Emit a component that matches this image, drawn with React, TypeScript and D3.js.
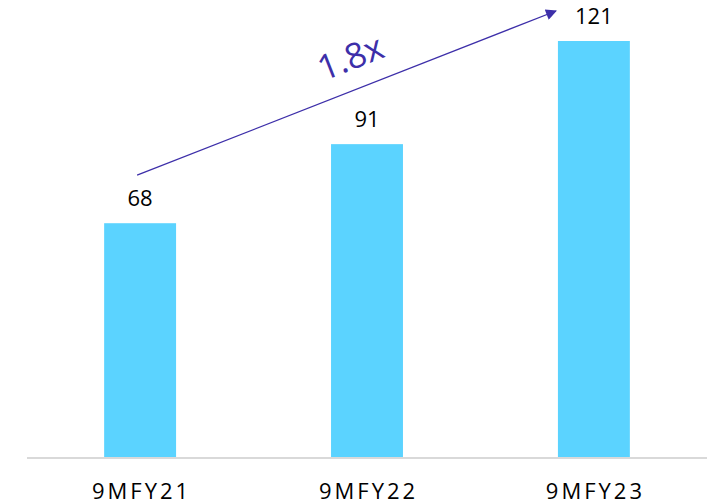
import React from "react";
import * as d3 from "d3";

const categories = ["9MFY21", "9MFY22", "9MFY23"];
const values = [68, 91, 121];
const growthLabel = "1.8x";

const W = 707;
const H = 504;
const BAR_COLOR = "#5bd3ff";
const ARROW_COLOR = "#3d2fa9";
const FONT = "'Open Sans', Lato, sans-serif";

export default function App() {
  const x = d3.scaleBand<string>().domain(categories).range([27, 707]).paddingInner(0.683).paddingOuter(0.34);
  const y = d3.scaleLinear().domain([0, 121]).range([457, 41]);
  const bw = x.bandwidth();

  // growth arrow from above the first bar to above the last bar
  const x0 = (x(categories[0]) ?? 0) + bw / 2 - 3;
  const y0 = y(values[0]) - 48;
  const x1 = (x(categories[2]) ?? 0) - 2;
  const y1 = y(values[2]) - 30;
  const angle = (Math.atan2(y1 - y0, x1 - x0) * 180) / Math.PI;
  const tx = x0 + (x1 - x0) * 0.52;
  const ty = y0 + (y1 - y0) * 0.52 - 21;

  return (
    <div style={{ position: "absolute", left: 0, top: 0 }}>
      <svg width={W} height={H} style={{ display: "block" }}>
        <defs>
          <marker id="arrowHead" viewBox="0 0 10 10" refX="9" refY="5" markerWidth="13" markerHeight="11" markerUnits="userSpaceOnUse" orient="auto">
            <path d="M0,0 L10,5 L0,10 Z" fill={ARROW_COLOR} />
          </marker>
        </defs>
        {categories.map((c, i) => (
          <rect key={c} x={x(c)} y={y(values[i])} width={bw} height={y(0) - y(values[i])} fill={BAR_COLOR} />
        ))}
        <line x1={27} x2={707} y1={458} y2={458} stroke="#d9d9d9" strokeWidth={2} />
        {categories.map((c, i) => (
          <text key={"v" + c} x={(x(c) ?? 0) + bw / 2} y={y(values[i]) - 17} textAnchor="middle" fontFamily={FONT} fontSize={22} fill="#000">
            {values[i]}
          </text>
        ))}
        {categories.map((c) => (
          <text key={"c" + c} x={(x(c) ?? 0) + bw / 2 + 1.5} y={499} textAnchor="middle" fontFamily={FONT} fontSize={22} letterSpacing={3} fill="#000">
            {c}
          </text>
        ))}
        <line x1={x0} y1={y0} x2={x1} y2={y1} stroke={ARROW_COLOR} strokeWidth={1.3} markerEnd="url(#arrowHead)" />
        <text x={tx} y={ty} transform={`rotate(${angle} ${tx} ${ty})`} textAnchor="middle" fontFamily={FONT} fontSize={35} fill={ARROW_COLOR}>
          {growthLabel}
        </text>
      </svg>
    </div>
  );
}
